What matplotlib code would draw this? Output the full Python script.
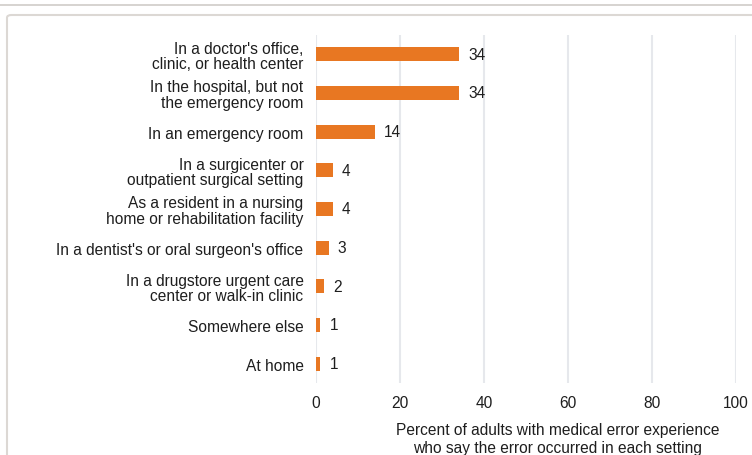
import matplotlib.pyplot as plt
from matplotlib.patches import FancyBboxPatch
from matplotlib.lines import Line2D

plt.rcParams['font.family'] = ['Liberation Sans', 'DejaVu Sans']

settings = ["In a doctor's office,\nclinic, or health center",
            "In the hospital, but not\nthe emergency room",
            "In an emergency room",
            "In a surgicenter or\noutpatient surgical setting",
            "As a resident in a nursing\nhome or rehabilitation facility",
            "In a dentist's or oral surgeon's office",
            "In a drugstore urgent care\ncenter or walk-in clinic",
            "Somewhere else",
            "At home"]
percent = [34, 34, 14, 4, 4, 3, 2, 1, 1]
ticks = [0, 20, 40, 60, 80, 100]

fs = 11.2
txt = "#1e1e1e"

fig = plt.figure(figsize=(7.52, 4.56), dpi=100)

# page decoration: header rule and rounded chart frame
fig.add_artist(Line2D([0, 1], [1 - 6/456, 1 - 6/456], color="#d0ccc8", lw=1.2))
frame = FancyBboxPatch((7/752, -0.05), 1.2, 1 - 16/456 + 0.05,
                       boxstyle="round,pad=0,rounding_size=0.006",
                       transform=fig.transFigure, fill=False,
                       edgecolor="#dcd8d4", lw=1.5)
fig.add_artist(frame)

ax = fig.add_axes([316/752, 1 - 384/456, 420/752, 348/456])
y = list(range(len(settings)))
ax.barh(y, percent, height=0.36, color="#E87722", zorder=3)
for yi, v in zip(y, percent):
    ax.text(v + 2.2, yi, str(v), va="center", ha="left", fontsize=fs, color=txt)

ax.set_xlim(0, 100)
ax.set_ylim(8.5, -0.5)
ax.set_yticks(y)
ax.set_yticklabels(settings, fontsize=fs, color=txt, linespacing=1.05)
ax.set_xticks(ticks)
ax.set_xticklabels([str(t) for t in ticks], fontsize=fs, color=txt)
ax.tick_params(axis="x", length=0, pad=9)
ax.tick_params(axis="y", length=0, pad=9)
ax.xaxis.grid(True, color="#e6e8ec", lw=1.5, zorder=0)
for s in ax.spines.values():
    s.set_visible(False)
ax.set_xlabel("Percent of adults with medical error experience\nwho say the error occurred in each setting",
              fontsize=fs, color=txt, linespacing=1.2)
ax.xaxis.set_label_coords(0.576, -0.113)
ax.xaxis.label.set_va("top")

fig.savefig("out.png", dpi=100)
